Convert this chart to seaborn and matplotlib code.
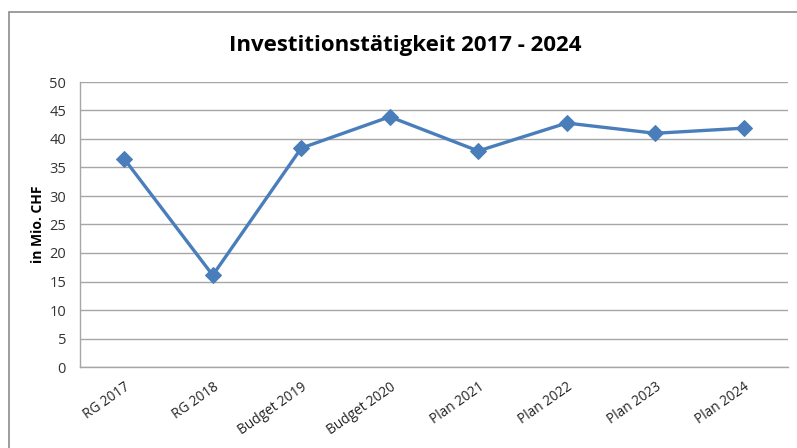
import matplotlib
matplotlib.use("Agg")
import matplotlib.pyplot as plt
import seaborn as sns
import pandas as pd
from matplotlib.patches import Rectangle

categories = ["RG 2017", "RG 2018", "Budget 2019", "Budget 2020",
              "Plan 2021", "Plan 2022", "Plan 2023", "Plan 2024"]
values = [36.5, 16.1, 38.4, 43.9, 37.9, 42.8, 41.0, 41.9]
yticks = [0, 5, 10, 15, 20, 25, 30, 35, 40, 45, 50]

sns.set_theme(style="white")
plt.rcParams['font.family'] = ['Open Sans', 'DejaVu Sans']

df = pd.DataFrame({"cat": categories, "val": values})

fig = plt.figure(figsize=(7.97, 4.48), dpi=100)
ax = fig.add_axes([80/797, 1-367/448, 708/797, 285/448])

sns.lineplot(data=df, x="cat", y="val", ax=ax, color="#4a7ebb",
             linewidth=2.4, marker="D", markersize=8, markeredgecolor="#4a7ebb",
             sort=False)

ax.set_xlim(-0.5, len(categories) - 0.5)
ax.set_ylim(0, 50)
ax.set_yticks(yticks)
ax.set_yticklabels([str(t) for t in yticks], fontsize=10.5, color="#333333")
ax.set_xticks(range(len(categories)))
ax.set_xticklabels(categories, rotation=35, ha="right", rotation_mode="anchor",
                   fontsize=9.8, color="#222222")
ax.tick_params(axis="x", length=0, pad=9)
ax.tick_params(axis="y", length=0, pad=10)

ax.grid(axis="y", color="#a6a6a6", linewidth=1)
ax.set_axisbelow(True)
for s in ["top", "right"]:
    ax.spines[s].set_visible(False)
for s in ["left", "bottom"]:
    ax.spines[s].set_color("#a6a6a6")
    ax.spines[s].set_linewidth(1)

ax.set_xlabel("")
ax.set_ylabel("in Mio. CHF", fontsize=10, fontweight="bold", color="#000000", labelpad=3)

fig.text(405/797, 1-45/448, "Investitionstätigkeit 2017 - 2024", ha="center", va="center",
         fontsize=16, fontweight="bold", color="#000000")

fig.patches.append(Rectangle((9/797, -0.1), 1.2, 0.1 + (1-12/448), transform=fig.transFigure,
                             fill=False, edgecolor="#8c8c8c", linewidth=1.2))

fig.savefig("out.png", dpi=100)
